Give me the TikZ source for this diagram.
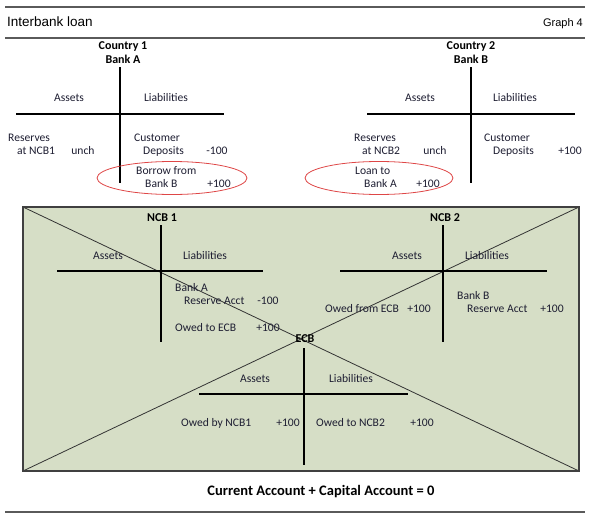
\documentclass[tikz,border=0pt]{standalone}
\usepackage{fontspec}
\setmainfont{Carlito}
\newfontfamily\arialfont{Liberation Sans}
\usetikzlibrary{shapes.geometric}
\definecolor{boxfill}{RGB}{214,222,198}
\definecolor{redline}{RGB}{222,70,70}
\definecolor{rulegray}{RGB}{90,90,90}
\definecolor{txtcol}{RGB}{30,30,50}
\begin{document}
\begin{tikzpicture}[x=1pt,y=-1pt,
  txt/.style={inner sep=0pt,font=\fontsize{11.6}{13}\selectfont,text=txtcol},
  ttl/.style={inner sep=0pt,font=\fontsize{12}{14}\selectfont\bfseries},
  tline/.style={line width=1.6pt},
  diag/.style={line width=0.8pt,draw=black!80},
  hrule/.style={line width=1.6pt,draw=rulegray},
  redell/.style={ellipse,draw=redline,line width=0.8pt,inner sep=0pt}]
\useasboundingbox (0,0) rectangle (590,517);
% header
\coordinate (hl1) at (5,7); \coordinate (hr1) at (585,7);
\coordinate (hl2) at (5,38); \coordinate (hr2) at (585,38);
\coordinate (hl3) at (5,512); \coordinate (hr3) at (585,512);
\draw[hrule] (hl1) -- (hr1);
\draw[hrule] (hl2) -- (hr2);
\draw[hrule] (hl3) -- (hr3);
\node[inner sep=0pt,anchor=west,font=\arialfont\fontsize{13.5}{15}\selectfont] (title) at (7,22) {Interbank loan};
\node[inner sep=0pt,anchor=east,font=\arialfont\fontsize{11}{13}\selectfont] (graph) at (583,24) {Graph 4};

% Country 1
\node[ttl] (c1a) at (123,47) {Country 1};
\node[ttl] (c1b) at (123,59) {Bank A};
\coordinate (a1t) at (120,67); \coordinate (a1b) at (120,183);
\coordinate (a1l) at (16,114); \coordinate (a1r) at (224,114);
\draw[tline] (a1t) -- (a1b);
\draw[tline] (a1l) -- (a1r);
\node[txt] (a1as) at (69,98) {Assets};
\node[txt] (a1li) at (166,98) {Liabilities};
\node[txt,anchor=west] (a1r1) at (8,138) {Reserves};
\node[txt,anchor=west] (a1r2) at (17,151) {at NCB1};
\node[txt] (a1un) at (83,151) {unch};
\node[txt,anchor=west] (a1c1) at (134,138) {Customer};
\node[txt,anchor=west] (a1c2) at (143,151) {Deposits};
\node[txt] (a1cv) at (217,151) {-100};
\node[txt,anchor=west] (a1b1) at (136,171) {Borrow from};
\node[txt,anchor=west] (a1b2) at (145,184) {Bank B};
\node[txt] (a1bv) at (219,184) {+100};
\node[redell,minimum width=150pt,minimum height=33pt] (e1) at (172,178) {};

% Country 2
\node[ttl] (c2a) at (471,47) {Country 2};
\node[ttl] (c2b) at (471,59) {Bank B};
\coordinate (a2t) at (471,67); \coordinate (a2b) at (471,183);
\coordinate (a2l) at (367,114); \coordinate (a2r) at (575,114);
\draw[tline] (a2t) -- (a2b);
\draw[tline] (a2l) -- (a2r);
\node[txt] (a2as) at (420,98) {Assets};
\node[txt] (a2li) at (515,98) {Liabilities};
\node[txt,anchor=west] (a2r1) at (354,138) {Reserves};
\node[txt,anchor=west] (a2r2) at (362,151) {at NCB2};
\node[txt] (a2un) at (435,151) {unch};
\node[txt,anchor=west] (a2c1) at (484,138) {Customer};
\node[txt,anchor=west] (a2c2) at (493,151) {Deposits};
\node[txt] (a2cv) at (570,151) {+100};
\node[txt,anchor=west] (a2l1) at (355,171) {Loan to};
\node[txt,anchor=west] (a2l2) at (364,184) {Bank A};
\node[txt] (a2lv) at (428,184) {+100};
\node[redell,minimum width=148pt,minimum height=33pt] (e2) at (379,178) {};

% green box
\coordinate (bl) at (23,207); \coordinate (br) at (579,207);
\coordinate (bbl) at (23,471); \coordinate (bbr) at (579,471);
\fill[boxfill] (bl) rectangle (bbr);
\draw[diag] (bl) -- (bbr);
\draw[diag] (bbl) -- (br);
\draw[line width=1.2pt,draw=black!75] (bl) rectangle (bbr);

% NCB 1
\node[ttl] (n1t) at (162,218) {NCB 1};
\coordinate (n1vt) at (161,225); \coordinate (n1vb) at (161,342);
\coordinate (n1hl) at (57,271); \coordinate (n1hr) at (263,271);
\draw[tline] (n1vt) -- (n1vb);
\draw[tline] (n1hl) -- (n1hr);
\node[txt] (n1as) at (108,256) {Assets};
\node[txt] (n1li) at (205,256) {Liabilities};
\node[txt,anchor=west] (n1b1) at (175,288) {Bank A};
\node[txt,anchor=west] (n1b2) at (184,301) {Reserve Acct};
\node[txt] (n1bv) at (268,301) {-100};
\node[txt,anchor=west] (n1o) at (175,328) {Owed to ECB};
\node[txt] (n1ov) at (268,328) {+100};

% NCB 2
\node[ttl] (n2t) at (445,218) {NCB 2};
\coordinate (n2vt) at (443,225); \coordinate (n2vb) at (443,342);
\coordinate (n2hl) at (340,271); \coordinate (n2hr) at (547,271);
\draw[tline] (n2vt) -- (n2vb);
\draw[tline] (n2hl) -- (n2hr);
\node[txt] (n2as) at (407,256) {Assets};
\node[txt] (n2li) at (487,256) {Liabilities};
\node[txt,anchor=west] (n2b1) at (457,296) {Bank B};
\node[txt,anchor=west] (n2b2) at (467,309) {Reserve Acct};
\node[txt] (n2bv) at (552,309) {+100};
\node[txt,anchor=west] (n2o) at (325,309) {Owed from ECB};
\node[txt] (n2ov) at (419,309) {+100};

% ECB
\node[ttl] (et) at (305,339) {ECB};
\coordinate (evt) at (304,348); \coordinate (evb) at (304,465);
\coordinate (ehl) at (199,394); \coordinate (ehr) at (408,394);
\draw[tline] (evt) -- (evb);
\draw[tline] (ehl) -- (ehr);
\node[txt] (eas) at (255,379) {Assets};
\node[txt] (eli) at (351,379) {Liabilities};
\node[txt,anchor=west] (eo1) at (181,423) {Owed by NCB1};
\node[txt] (eo1v) at (288,423) {+100};
\node[txt,anchor=west] (eo2) at (316,423) {Owed to NCB2};
\node[txt] (eo2v) at (422,423) {+100};

% footer
\node[ttl,font=\fontsize{14.5}{16}\selectfont\bfseries] (foot) at (321,492) {Current Account + Capital Account = 0};
\end{tikzpicture}
\end{document}
